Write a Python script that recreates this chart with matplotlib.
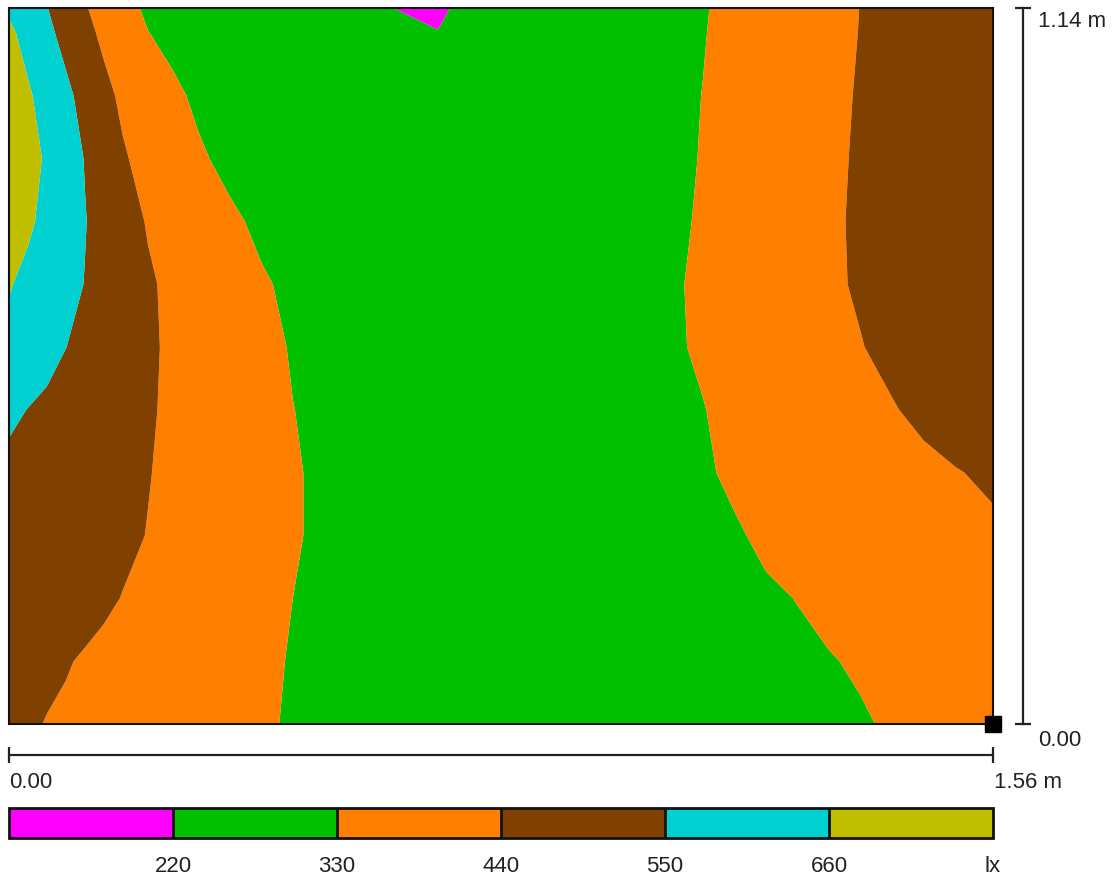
import numpy as np
import matplotlib
matplotlib.use("Agg")
import matplotlib.pyplot as plt

plt.rcParams['font.family'] = ['Liberation Sans', 'DejaVu Sans']

# Room size (m)
room_w = 1.56
room_h = 1.14

# Grid positions (m)
x_pos = [0.00, 0.03, 0.06, 0.09, 0.12, 0.15, 0.18, 0.22, 0.26, 0.30, 0.35, 0.40, 0.45, 0.50,
         0.60, 0.68, 0.70, 0.85, 1.00, 1.10, 1.15, 1.20, 1.25, 1.30, 1.35, 1.40, 1.45, 1.50, 1.56]
y_pos = [1.14, 1.10, 1.00, 0.90, 0.80, 0.70, 0.60, 0.50, 0.40, 0.30, 0.20, 0.10, 0.00]

# Illuminance (lx), one row per y position (top to bottom)
lux = [
    [645, 596, 553, 500, 448, 403, 358, 317, 300, 290, 282, 276, 272, 268, 226, 170, 222, 262, 290, 325, 349, 372, 394, 417, 441, 465, 490, 512, 540],
    [680, 626, 573, 520, 467, 422, 383, 332, 308, 296, 286, 279, 274, 270, 255, 228, 238, 268, 292, 327, 350, 373, 396, 419, 442, 464, 487, 509, 536],
    [720, 673, 622, 572, 519, 465, 424, 384, 345, 317, 302, 292, 285, 280, 272, 268, 268, 275, 295, 331, 353, 377, 399, 422, 446, 468, 492, 514, 542],
    [740, 697, 647, 597, 547, 499, 450, 410, 375, 340, 312, 300, 290, 284, 276, 272, 272, 278, 298, 333, 356, 379, 402, 425, 449, 472, 495, 518, 546],
    [715, 675, 635, 594, 554, 517, 479, 434, 406, 378, 342, 317, 303, 293, 280, 275, 275, 282, 302, 336, 359, 382, 405, 428, 451, 473, 496, 519, 546],
    [666, 637, 607, 578, 548, 519, 490, 451, 422, 398, 367, 337, 318, 305, 287, 280, 279, 286, 306, 340, 362, 384, 405, 427, 449, 470, 492, 513, 539],
    [637, 608, 580, 551, 528, 505, 482, 452, 427, 405, 377, 350, 325, 312, 292, 284, 283, 288, 306, 338, 358, 378, 397, 418, 437, 460, 484, 508, 536],
    [569, 548, 532, 516, 500, 484, 468, 448, 427, 407, 381, 356, 331, 316, 296, 287, 286, 290, 305, 328, 346, 364, 381, 399, 417, 435, 457, 478, 505],
    [526, 515, 503, 492, 481, 469, 458, 443, 425, 406, 382, 359, 335, 320, 300, 290, 289, 292, 303, 324, 338, 352, 366, 380, 394, 408, 422, 436, 452],
    [535, 522, 509, 495, 482, 469, 455, 438, 420, 402, 380, 358, 335, 320, 302, 292, 291, 293, 303, 311, 325, 338, 351, 363, 376, 388, 401, 413, 428],
    [523, 509, 495, 481, 466, 452, 438, 422, 406, 390, 370, 350, 330, 318, 302, 292, 291, 292, 300, 311, 318, 324, 331, 344, 356, 369, 382, 394, 410],
    [492, 477, 461, 445, 433, 423, 414, 401, 388, 375, 358, 342, 326, 316, 300, 290, 289, 288, 295, 302, 309, 316, 322, 327, 336, 350, 364, 378, 395],
    [470, 453, 436, 429, 420, 411, 402, 391, 379, 367, 353, 338, 324, 313, 298, 288, 287, 285, 290, 296, 301, 307, 313, 319, 325, 336, 351, 366, 385],
]

levels = [0, 220, 330, 440, 550, 660, 1000]
level_labels = ['220', '330', '440', '550', '660', 'lx']
colors = ['#FF00FF', '#00C000', '#FF8000', '#804000', '#00D0D0', '#BFBF00']

W, H = 1117, 881
fig = plt.figure(figsize=(W / 100, H / 100), dpi=100)

def frac(px0, py0, px1, py1):
    return [px0 / W, 1 - py1 / H, (px1 - px0) / W, (py1 - py0) / H]

ax = fig.add_axes(frac(9, 8, 993, 724))
X, Y = np.meshgrid(x_pos, y_pos)
cs = ax.contourf(X, Y, np.array(lux, dtype=float), levels=levels, colors=colors, antialiased=True)
ax.set_xlim(0, room_w)
ax.set_ylim(0, room_h)
ax.set_xticks([])
ax.set_yticks([])
for s in ax.spines.values():
    s.set_linewidth(1.5)
    s.set_color('#111111')

# reference marker at the bottom-right corner
ax.plot([room_w], [0], marker='s', ms=11.5, color='black', clip_on=False, zorder=5)

fs = 16
# horizontal scale bar
tx = ax.get_xaxis_transform()
yb = (724 - 755) / 716
ax.plot([0, room_w], [yb, yb], color='#222222', lw=1.6, transform=tx, clip_on=False)
ax.plot([0, room_w], [yb, yb], ls='none', marker='|', ms=12, mew=1.6, color='#222222',
        transform=tx, clip_on=False)
yt = (724 - 782) / 716
ax.text(0, yt, '0.00', transform=tx, ha='left', va='center', fontsize=fs, color='#222222')
ax.text(room_w + 0.002, yt, f'{room_w:.2f} m', transform=tx, ha='left', va='center',
        fontsize=fs, color='#222222')

# vertical scale bar
ty = ax.get_yaxis_transform()
xb = (1023 - 9) / 984
ax.plot([xb, xb], [0, room_h], color='#222222', lw=1.6, transform=ty, clip_on=False)
ax.plot([xb, xb], [0, room_h], ls='none', marker='_', ms=12, mew=1.6, color='#222222',
        transform=ty, clip_on=False)
xt = (1038 - 9) / 984
ax.text(xt, room_h - 0.022, f'{room_h:.2f} m', transform=ty, ha='left', va='center',
        fontsize=fs, color='#222222')
ax.text(xt, -0.026, '0.00', transform=ty, ha='left', va='center', fontsize=fs, color='#222222')

# colour legend
cax = fig.add_axes(frac(9, 808, 993, 838))
cb = fig.colorbar(cs, cax=cax, orientation='horizontal', drawedges=True, spacing='uniform')
cb.outline.set_linewidth(2)
cb.outline.set_edgecolor('#111111')
cb.dividers.set_linewidth(2)
cb.dividers.set_color('#111111')
cb.set_ticks(levels[1:])
cb.set_ticklabels(level_labels)
cax.tick_params(axis='x', length=0, pad=13, labelsize=fs, labelcolor='#222222')

fig.savefig('out.png', dpi=100)
